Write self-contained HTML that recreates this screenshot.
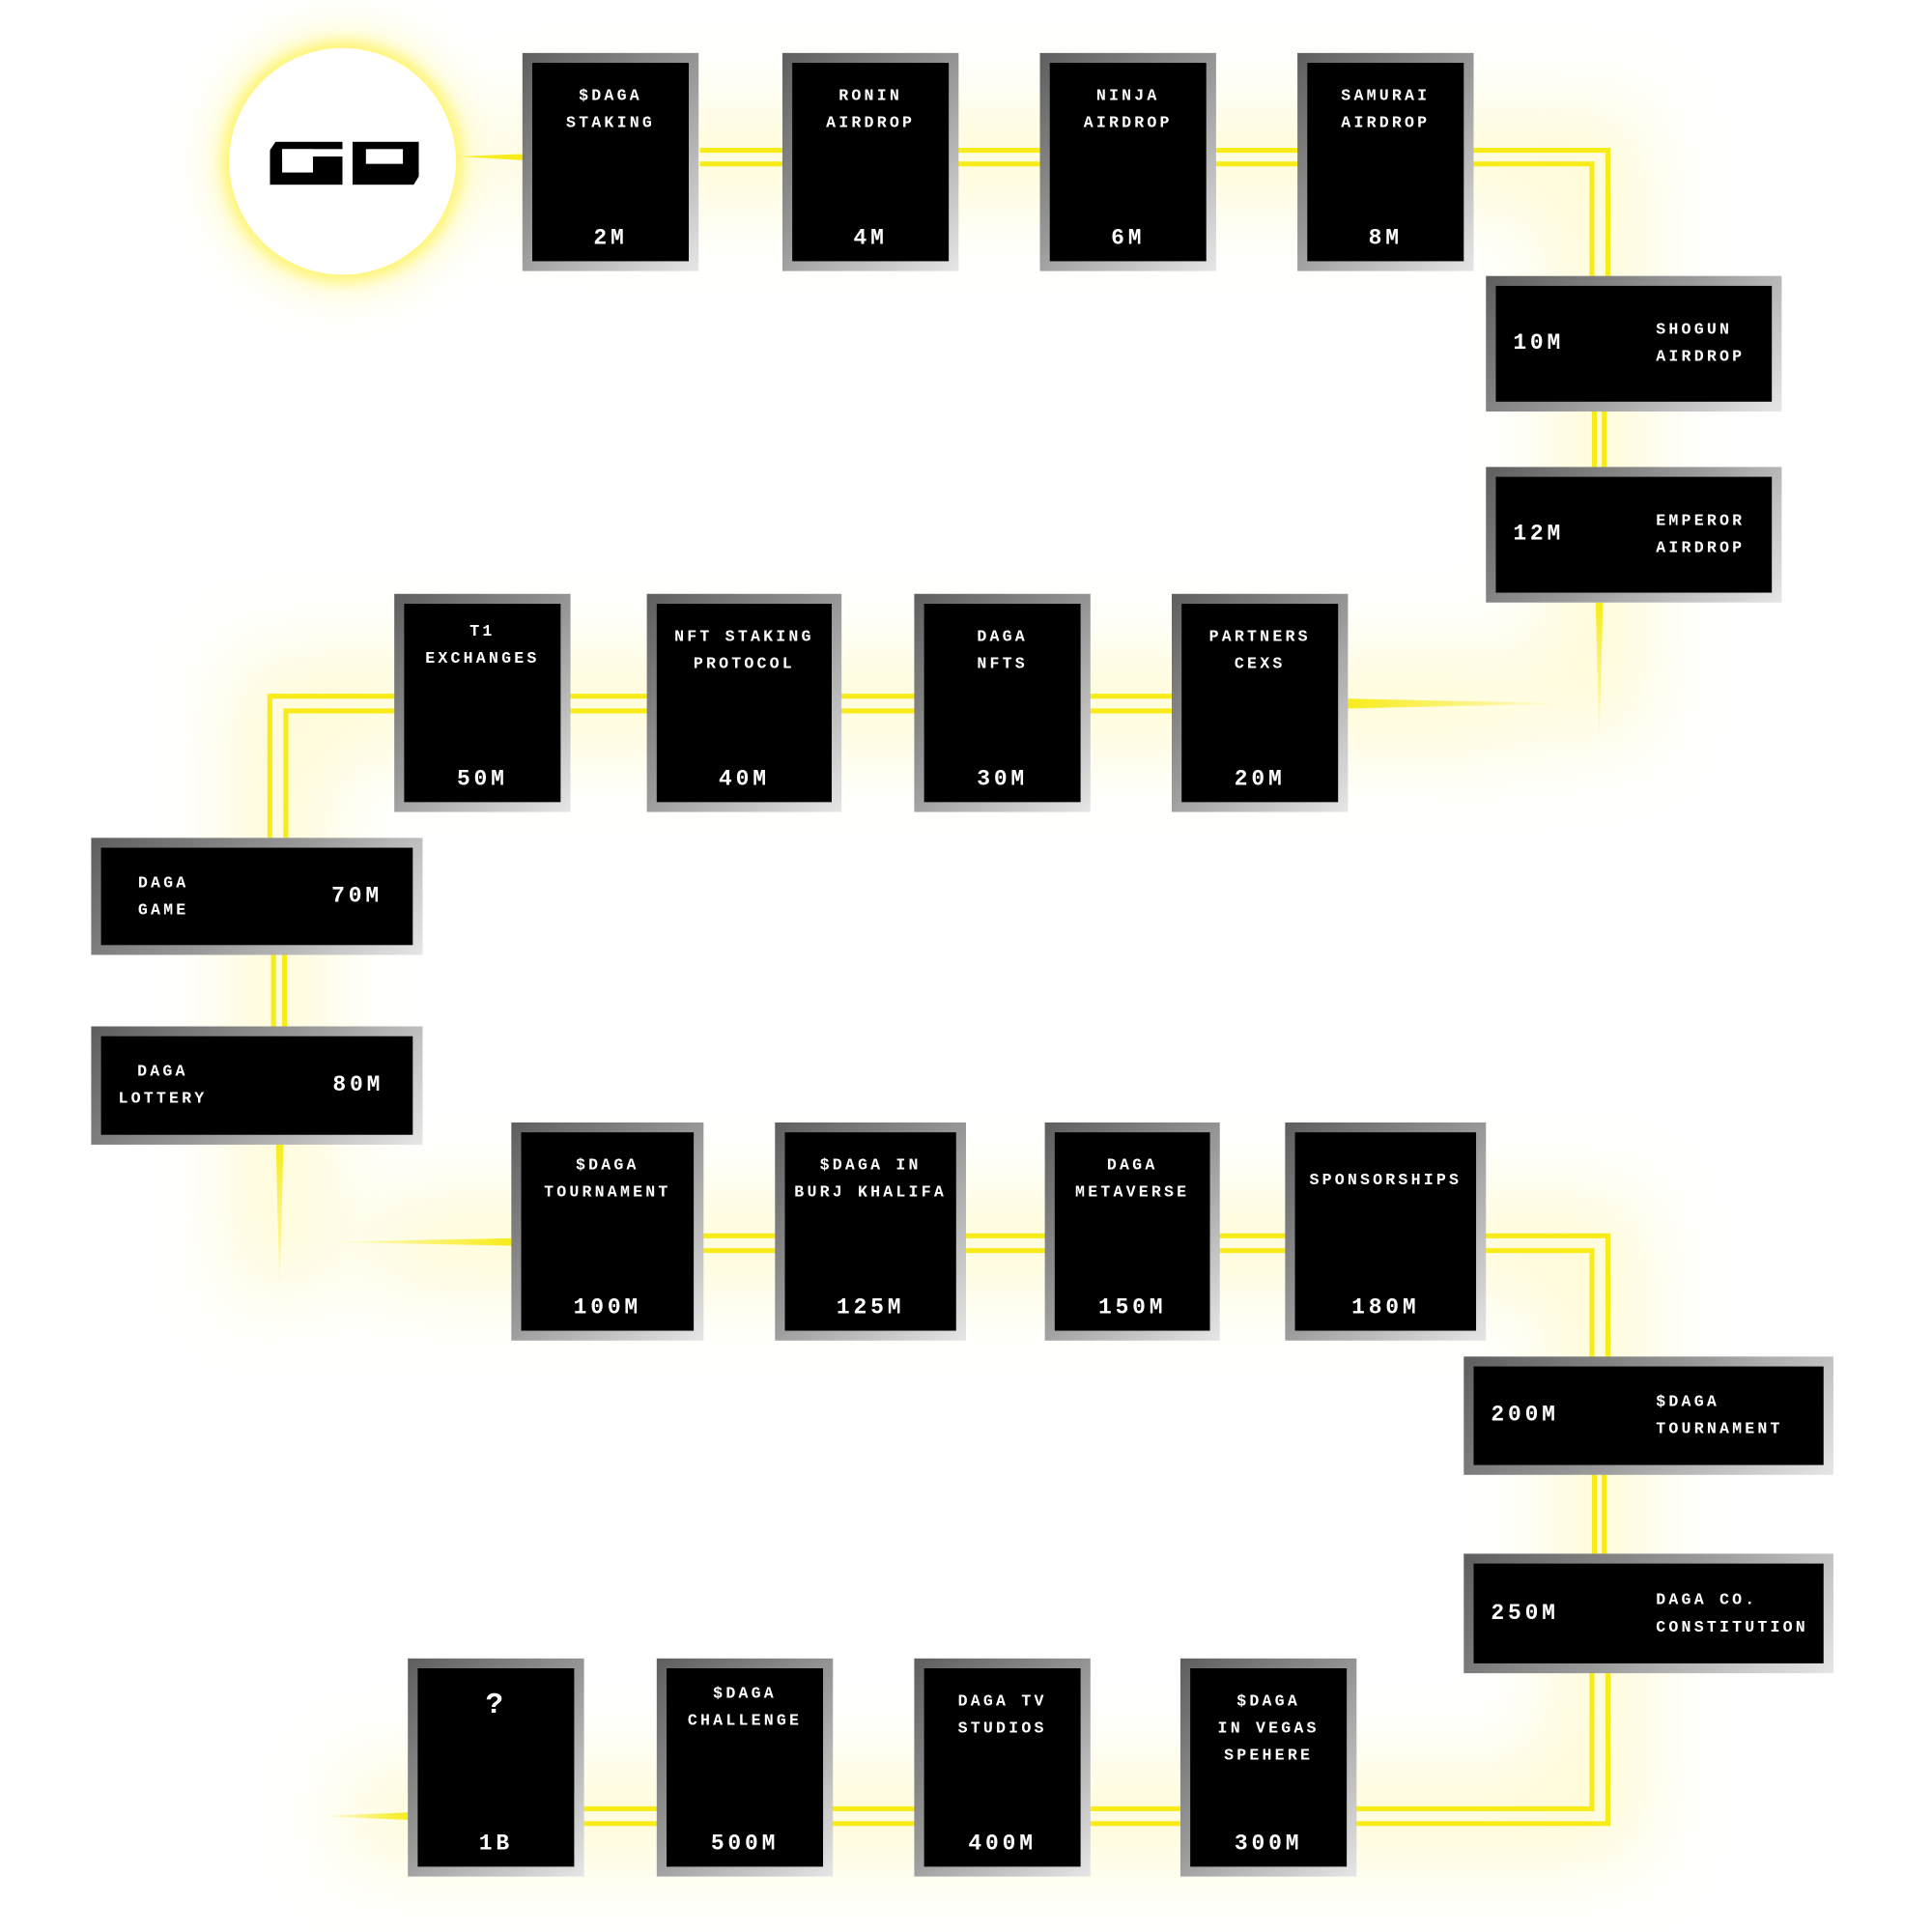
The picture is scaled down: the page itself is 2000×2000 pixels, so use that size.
<!DOCTYPE html>
<html><head><meta charset="utf-8"><style>
html,body{margin:0;padding:0;background:#fff;}
#wrap{position:relative;width:1568px;height:1568px;transform:scale(1.2755);transform-origin:0 0;overflow:hidden;}
svg.ln{position:absolute;left:0;top:0;}
.card{position:absolute;box-sizing:border-box;padding:8px;background:linear-gradient(135deg,#5e5e5e 0%,#9a9a9a 50%,#e6e6e6 100%);}
.card .in{position:relative;width:100%;height:100%;background:#000;color:#fff;font-family:"Liberation Mono","DejaVu Sans Mono",monospace;font-weight:bold;}
.v .t{position:absolute;left:0;right:0;top:16px;text-align:center;font-size:13px;letter-spacing:2.5px;line-height:22px;}
.v .b{position:absolute;left:0;right:0;bottom:8px;text-align:center;font-size:18px;letter-spacing:3px;}
.h .num{position:absolute;left:14px;top:50%;transform:translateY(-50%);font-size:18px;letter-spacing:3px;}
.h .lab{position:absolute;top:50%;transform:translateY(-50%);font-size:13px;letter-spacing:2.5px;line-height:22px;}
.go{position:absolute;left:186px;top:39px;width:184px;height:184px;border-radius:50%;background:#fff;box-shadow:0 0 12px 5px #fff46a,0 0 36px 14px rgba(255,245,120,.4);}
</style></head><body><div id="wrap">
<svg class="ln" width="1568" height="1568">
<defs><filter id="bl" x="-50%" y="-50%" width="200%" height="200%"><feGaussianBlur stdDeviation="35"/></filter>
<linearGradient id="fh" x1="1" x2="0"><stop offset="0" stop-color="#f7ec1a"/><stop offset="1" stop-color="#f7ec1a" stop-opacity="0"/></linearGradient>
<linearGradient id="fh2" x1="0" x2="1"><stop offset="0" stop-color="#f7ec1a"/><stop offset="1" stop-color="#f7ec1a" stop-opacity="0"/></linearGradient>
<linearGradient id="fv" x1="0" x2="0" y1="0" y2="1"><stop offset="0" stop-color="#f7ec1a"/><stop offset="1" stop-color="#f7ec1a" stop-opacity="0"/></linearGradient></defs>
<g filter="url(#bl)" fill="none" stroke="#fff59a" stroke-width="70" opacity="0.45">
<path d="M400 128 H1298 V600"/><path d="M1250 571 H226 V1050"/><path d="M300 1009 H1298 V1474 H280"/>
</g>
<g fill="none" stroke="#f7ec1a" stroke-width="4">
<path d="M568 122 H1305 V224"/><path d="M568 133 H1292 V224"/>
<path d="M1294 334 V379 M1302 334 V379"/>
<path d="M951 565 H219 V680"/><path d="M951 577 H232 V680"/>
<path d="M222 775 V833 M231 775 V833"/>
<path d="M571 1003 H1305 V1101"/><path d="M571 1015 H1292 V1101"/>
<path d="M1294 1197 V1261 M1302 1197 V1261"/>
<path d="M1305 1358 V1480 H474"/><path d="M1292 1358 V1468 H474"/>
</g>
<polygon points="370,127 424,125 424,130" fill="#f7ec1a"/>
<polygon points="1094,567 1094,575 1275,571" fill="url(#fh2)"/>
<polygon points="1295,489 1301,489 1298,605" fill="url(#fv)"/>
<polygon points="224,929 230,929 227,1055" fill="url(#fv)"/>
<polygon points="415,1005 415,1011 260,1008" fill="url(#fh)"/>
<polygon points="331,1471 331,1477 258,1474" fill="url(#fh)"/>
</svg>
<div class="go"></div>
<div style="position:absolute;left:219px;top:115px;width:59px;height:35px;background:#000;clip-path:polygon(8% 0,100% 0,100% 100%,0 100%,0 20%);"></div>
<div style="position:absolute;left:229px;top:121px;width:49px;height:6px;background:#fff;"></div>
<div style="position:absolute;left:229px;top:121px;width:25px;height:19px;background:#fff;"></div>
<div style="position:absolute;left:286px;top:115px;width:54px;height:35px;background:#000;clip-path:polygon(0 0,100% 0,100% 80%,92% 100%,0 100%);"></div>
<div style="position:absolute;left:297px;top:121px;width:30px;height:12px;background:#fff;"></div>

<div class="card v" style="left:424px;top:43px;width:143px;height:177px"><div class="in"><div class="t">$DAGA<br>STAKING</div><div class="b">2M</div></div></div>
<div class="card v" style="left:635px;top:43px;width:143px;height:177px"><div class="in"><div class="t">RONIN<br>AIRDROP</div><div class="b">4M</div></div></div>
<div class="card v" style="left:844px;top:43px;width:143px;height:177px"><div class="in"><div class="t">NINJA<br>AIRDROP</div><div class="b">6M</div></div></div>
<div class="card v" style="left:1053px;top:43px;width:143px;height:177px"><div class="in"><div class="t">SAMURAI<br>AIRDROP</div><div class="b">8M</div></div></div>

<div class="card h" style="left:1206px;top:224px;width:240px;height:110px"><div class="in"><div class="num">10M</div><div class="lab" style="left:130px">SHOGUN<br>AIRDROP</div></div></div>
<div class="card h" style="left:1206px;top:379px;width:240px;height:110px"><div class="in"><div class="num">12M</div><div class="lab" style="left:130px">EMPEROR<br>AIRDROP</div></div></div>

<div class="card v" style="left:320px;top:482px;width:143px;height:177px"><div class="in"><div class="t" style="top:12px">T1<br>EXCHANGES</div><div class="b">50M</div></div></div>
<div class="card v" style="left:525px;top:482px;width:158px;height:177px"><div class="in"><div class="t">NFT STAKING<br>PROTOCOL</div><div class="b">40M</div></div></div>
<div class="card v" style="left:742px;top:482px;width:143px;height:177px"><div class="in"><div class="t">DAGA<br>NFTS</div><div class="b">30M</div></div></div>
<div class="card v" style="left:951px;top:482px;width:143px;height:177px"><div class="in"><div class="t">PARTNERS<br>CEXS</div><div class="b">20M</div></div></div>

<div class="card h" style="left:74px;top:680px;width:269px;height:95px"><div class="in"><div class="lab" style="left:30px">DAGA<br>GAME</div><div class="num" style="left:187px">70M</div></div></div>
<div class="card h" style="left:74px;top:833px;width:269px;height:96px"><div class="in"><div class="lab" style="left:14px;text-align:center">DAGA<br>LOTTERY</div><div class="num" style="left:188px">80M</div></div></div>

<div class="card v" style="left:415px;top:911px;width:156px;height:177px"><div class="in"><div class="t">$DAGA<br>TOURNAMENT</div><div class="b">100M</div></div></div>
<div class="card v" style="left:629px;top:911px;width:155px;height:177px"><div class="in"><div class="t">$DAGA IN<br>BURJ KHALIFA</div><div class="b">125M</div></div></div>
<div class="card v" style="left:848px;top:911px;width:142px;height:177px"><div class="in"><div class="t">DAGA<br>METAVERSE</div><div class="b">150M</div></div></div>
<div class="card v" style="left:1043px;top:911px;width:163px;height:177px"><div class="in"><div class="t" style="top:28px">SPONSORSHIPS</div><div class="b">180M</div></div></div>

<div class="card h" style="left:1188px;top:1101px;width:300px;height:96px"><div class="in"><div class="num">200M</div><div class="lab" style="left:148px">$DAGA<br>TOURNAMENT</div></div></div>
<div class="card h" style="left:1188px;top:1261px;width:300px;height:97px"><div class="in"><div class="num">250M</div><div class="lab" style="left:148px">DAGA CO.<br>CONSTITUTION</div></div></div>

<div class="card v" style="left:331px;top:1346px;width:143px;height:177px"><div class="in"><div class="t" style="font-size:24px;top:20px">?</div><div class="b">1B</div></div></div>
<div class="card v" style="left:533px;top:1346px;width:143px;height:177px"><div class="in"><div class="t" style="top:10px">$DAGA<br>CHALLENGE</div><div class="b">500M</div></div></div>
<div class="card v" style="left:742px;top:1346px;width:143px;height:177px"><div class="in"><div class="t">DAGA TV<br>STUDIOS</div><div class="b">400M</div></div></div>
<div class="card v" style="left:958px;top:1346px;width:143px;height:177px"><div class="in"><div class="t">$DAGA<br>IN VEGAS<br>SPEHERE</div><div class="b">300M</div></div></div>
</div></body></html>
